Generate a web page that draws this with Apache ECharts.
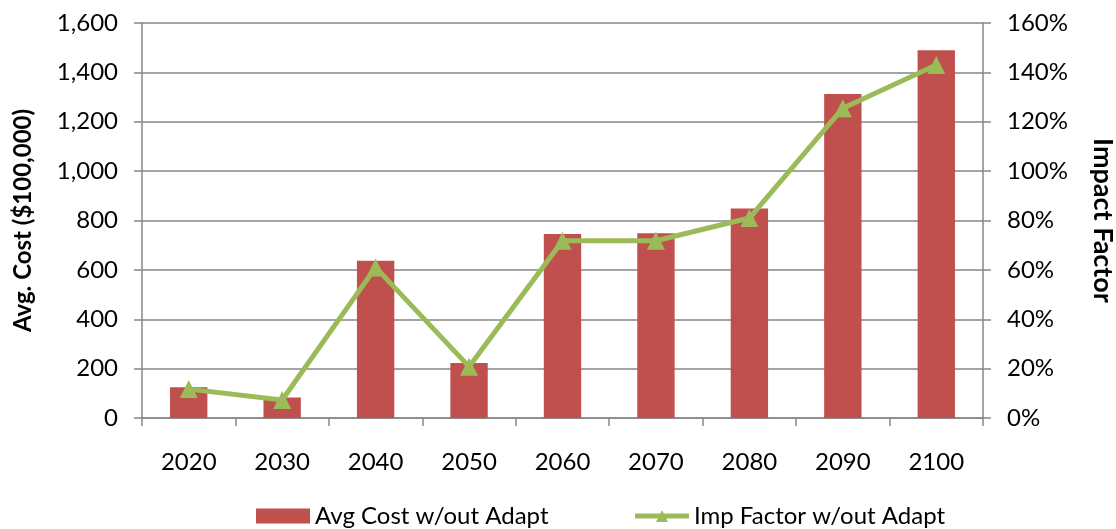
<!DOCTYPE html>
<html><head><meta charset="utf-8">
<script src="https://cdn.jsdelivr.net/npm/echarts@6/dist/echarts.min.js"></script>
<style>html,body{margin:0;padding:0;background:#fff}#c{width:1116px;height:529px}</style>
</head><body><div id="c"></div>
<script>
const categories = ['2020','2030','2040','2050','2060','2070','2080','2090','2100'];
const avgCost = [125, 83, 637, 223, 745, 748, 849, 1312, 1490];
const impFactor = [11.7, 7.3, 61, 20.8, 71.8, 71.8, 81, 125.5, 143];
const leftTicks = [0, 200, 400, 600, 800, 1000, 1200, 1400, 1600];
const rightTicks = [0, 20, 40, 60, 80, 100, 120, 140, 160];

const font = 'Lato';
const chart = echarts.init(document.getElementById('c'));
chart.setOption({
  animation: false,
  textStyle: {fontFamily: font},
  grid: {left: 142, right: 133, top: 23, bottom: 111, containLabel: false, outerBoundsMode: 'none'},
  legend: {
    left: 251, top: 499, itemWidth: 54, itemHeight: 15, itemGap: 84,
    textStyle: {fontFamily: font, fontSize: 24, color: '#000'},
    data: [
      {name: 'Avg Cost w/out Adapt', icon: 'rect'},
      {name: 'Imp Factor w/out Adapt', lineStyle: {width: 5}}
    ]
  },
  xAxis: {
    type: 'category', data: categories,
    axisLine: {lineStyle: {color: '#868686', width: 1.5}},
    axisTick: {show: true, length: 8, lineStyle: {color: '#868686', width: 1.5}},
    axisLabel: {fontFamily: font, fontSize: 24, color: '#000', margin: 32}
  },
  yAxis: [
    {
      type: 'value', min: leftTicks[0], max: leftTicks[leftTicks.length-1], interval: 200,
      name: 'Avg. Cost ($100,000)', nameLocation: 'middle', nameGap: 107,
      nameTextStyle: {fontFamily: font, fontSize: 24, fontWeight: 'bold', color: '#000'},
      axisLine: {show: true, lineStyle: {color: '#868686', width: 1.5}},
      axisTick: {show: true, length: 8, lineStyle: {color: '#868686', width: 1.5}},
      axisLabel: {fontFamily: font, fontSize: 24, color: '#000', margin: 24,
        formatter: v => v.toLocaleString('en-US')},
      splitLine: {lineStyle: {color: '#868686', width: 1.5}}
    },
    {
      type: 'value', min: rightTicks[0], max: rightTicks[rightTicks.length-1], interval: 20,
      name: 'Impact Factor', nameLocation: 'middle', nameGap: 106, nameRotate: -90,
      nameTextStyle: {fontFamily: font, fontSize: 27, fontWeight: 'bold', color: '#000'},
      axisLine: {show: true, lineStyle: {color: '#868686', width: 1.5}},
      axisTick: {show: true, length: 8, lineStyle: {color: '#868686', width: 1.5}},
      axisLabel: {fontFamily: font, fontSize: 24, color: '#000', margin: 24,
        formatter: v => v + '%'},
      splitLine: {show: false}
    }
  ],
  series: [
    {
      name: 'Avg Cost w/out Adapt', type: 'bar', data: avgCost, barWidth: '40%',
      itemStyle: {color: '#C0504D'}, yAxisIndex: 0
    },
    {
      name: 'Imp Factor w/out Adapt', type: 'line', data: impFactor, yAxisIndex: 1,
      symbol: 'triangle', symbolSize: 18,
      lineStyle: {color: '#9BBB59', width: 5},
      itemStyle: {color: '#9BBB59'}
    }
  ]
});
</script></body></html>
